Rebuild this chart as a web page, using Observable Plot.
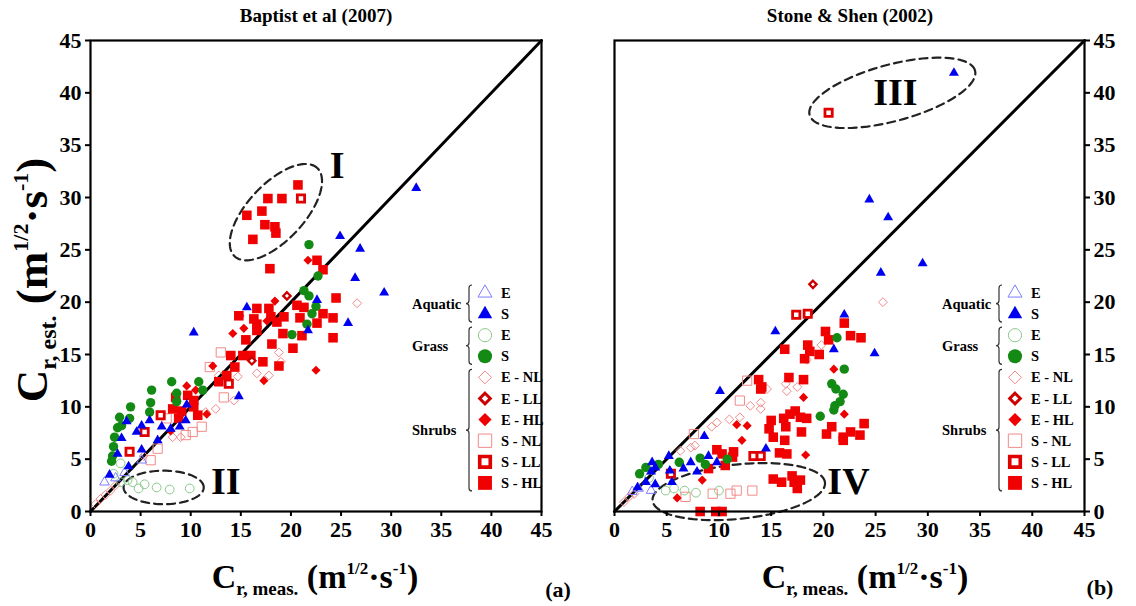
<!DOCTYPE html>
<html><head><meta charset="utf-8">
<script src="https://cdn.jsdelivr.net/npm/d3@7"></script>
<script src="https://cdn.jsdelivr.net/npm/@observablehq/plot@0.6"></script>
<style>
html,body{margin:0;padding:0;background:#fff;}
body{width:1136px;height:606px;overflow:hidden;position:relative;font-family:"Liberation Serif","Times New Roman",serif;font-weight:bold;color:#000;}
.abs{position:absolute;white-space:nowrap;}
.title{font-size:19px;transform:translateX(-50%);}
.axlab{font-size:34px;line-height:1;}
.axlab .sb{font-size:19px;position:relative;top:7px;}
.axlab .sp{font-size:17px;position:relative;top:-14px;}
.ylab{font-size:45px;line-height:1;}
.ylab .sb{font-size:24px;position:relative;top:9px;}
.ylab .sp{font-size:22px;position:relative;top:-19px;}
.tag{font-size:22px;transform:translateX(-50%);}
</style></head><body>
<script>
// ---------- axis ticks ----------
const tickValues = [0,5,10,15,20,25,30,35,40,45];

// ---------- Baptist et al (2007) : [C_meas, C_est] ----------
const baptistAquaticE = [[5.1,4.9],[3.4,3.7],[1.4,2.8],[2.5,3.2]];
const baptistAquaticS = [[24.9,26.3],[26.9,25.1],[26.4,22.3],[25.7,18.0],[22.6,20.2],[15.6,19.5],[10.3,17.1],[21.7,17.3],[29.3,20.9],[32.5,30.9],[14.8,11.0],[9.6,10.2],[5.9,8.7],[3.6,8.6],[5.1,8.2],[4.6,7.6],[7.1,8.1],[8.0,7.9],[8.9,8.1],[9.5,8.7],[6.7,6.8],[3.1,7.0],[5.1,5.9],[2.7,5.5],[3.8,4.3],[1.9,3.5]];
const baptistGrassE = [[4.8,2.2],[5.4,2.6],[6.6,2.3],[7.9,2.1],[9.9,2.2],[4.2,2.8],[3.0,4.6],[2.3,3.6],[3.7,3.0],[3.0,2.8]];
const baptistGrassS = [[21.8,25.5],[22.7,22.5],[21.3,21.1],[21.8,20.6],[22.5,19.6],[22.1,18.9],[21.6,17.9],[20.1,16.9],[8.1,12.4],[10.8,12.4],[11.2,11.6],[6.1,11.6],[8.6,11.3],[8.6,10.5],[6.0,10.4],[4.0,10.0],[5.9,9.5],[2.9,9.0],[3.9,8.9],[2.7,8.0],[2.4,7.1],[2.3,6.2],[2.2,5.3],[2.1,4.8],[3.1,8.2]];
const baptistShrubENL = [[0.5,0.7],[1.0,1.2],[1.5,1.6],[2.0,2.0],[2.5,2.5],[18.8,15.2],[19.0,14.3],[16.6,13.2],[17.8,13.0],[14.7,12.9],[14.3,10.6],[12.5,9.8],[11.5,9.5],[9.0,7.1],[8.2,7.1],[12.8,13.0],[26.6,19.9],[5.3,5.3]];
const baptistShrubELL = [[19.6,20.6],[16.1,14.4]];
const baptistShrubEHL = [[21.7,24.0],[18.4,20.1],[14.9,18.7],[15.3,17.5],[14.2,17.0],[22.5,13.5],[12.2,13.9],[17.6,18.2],[8.0,7.7],[9.6,12.0],[10.5,11.6],[11.6,9.3],[17.3,12.5]];
const baptistShrubSNL = [[13.0,15.2],[11.9,13.8],[11.1,8.1],[10.2,7.6],[9.5,7.3],[6.7,6.0],[6.0,4.9],[13.3,10.9],[7.6,8.9]];
const baptistShrubSLL = [[21.0,29.9],[13.8,12.2],[7.0,9.2],[5.4,7.6],[3.9,5.7]];
const baptistShrubSHL = [[20.7,31.2],[17.7,29.9],[19.1,29.9],[17.1,28.7],[15.6,28.3],[17.4,27.4],[18.4,27.2],[18.5,26.6],[16.2,26.0],[17.9,23.2],[22.6,24.0],[23.2,23.1],[24.5,20.4],[21.3,19.5],[23.2,18.9],[24.2,18.5],[20.9,18.5],[22.6,18.0],[24.2,16.6],[21.1,16.8],[16.6,19.4],[17.8,19.4],[18.0,18.6],[19.3,18.6],[16.6,17.9],[15.5,16.4],[16.6,17.3],[19.2,17.0],[18.1,16.0],[20.2,15.6],[14.0,14.9],[15.2,14.9],[16.0,14.9],[14.4,13.8],[17.2,14.3],[18.8,13.9],[13.6,13.0],[14.8,18.7],[12.8,12.4],[9.7,11.1],[10.3,10.6],[8.2,9.8],[9.1,9.6],[10.3,10.0],[8.8,8.9],[10.7,9.2],[8.5,10.9],[18.6,18.1],[20.6,19.7],[16.3,18.4]];

// ---------- Stone & Shen (2002) ----------
const stoneAquaticE = [[1.7,1.9],[3.5,2.0],[2.3,2.2]];
const stoneAquaticS = [[32.5,41.9],[24.4,29.8],[26.2,28.1],[29.5,23.7],[25.5,22.8],[22.0,18.8],[15.4,17.2],[21.0,15.5],[24.9,15.1],[10.1,11.5],[8.6,7.2],[14.5,6.0],[2.2,2.3],[3.0,2.8],[3.9,2.6],[3.6,4.7],[3.9,4.2],[3.5,3.8],[5.2,5.3],[5.3,3.9],[5.5,2.8],[6.6,4.1],[7.3,4.7],[7.9,3.8],[9.0,5.3],[9.8,4.7]];
const stoneGrassE = [[4.9,2.0],[5.7,2.2],[6.7,2.0],[7.8,1.8],[10.0,2.0],[3.3,3.2]];
const stoneGrassS = [[21.3,16.6],[22.0,13.6],[20.8,12.2],[21.2,11.7],[21.9,11.2],[21.6,10.5],[21.1,10.1],[21.0,9.7],[19.7,9.1],[2.4,3.6],[3.0,4.2],[4.2,4.5],[6.2,4.7],[8.2,5.1],[8.7,4.5],[10.8,5.0]];
const stoneShrubENL = [[19.8,15.9],[18.4,14.5],[14.6,11.7],[16.4,12.2],[17.5,11.9],[16.5,11.5],[13.0,10.1],[14.0,10.4],[14.0,9.8],[11.0,8.8],[9.8,8.5],[9.3,8.1],[7.7,6.3],[12.0,9.0],[7.3,6.1],[6.3,5.8],[0.9,0.9],[1.4,1.4],[1.9,1.7],[25.7,20.0]];
const stoneShrubELL = [[19.0,21.7]];
const stoneShrubEHL = [[21.0,13.6],[18.1,10.9],[22.0,9.3],[18.3,5.4],[12.7,8.2],[11.7,8.3],[12.2,6.8],[6.0,1.3],[8.4,3.0]];
const stoneShrubSNL = [[9.4,1.7],[11.1,1.7],[11.7,2.0],[13.2,2.0],[6.8,1.4],[12.7,12.5],[12.0,10.6],[7.6,7.4]];
const stoneShrubSLL = [[20.5,38.1],[17.4,18.8],[18.5,18.9],[13.3,5.3],[14.0,5.3],[5.4,3.6]];
const stoneShrubSHL = [[22.0,18.0],[20.2,17.2],[20.5,16.4],[22.6,16.8],[23.6,16.6],[16.3,15.5],[18.5,15.9],[18.7,15.3],[19.6,15.0],[18.2,14.6],[13.8,12.6],[14.0,11.7],[16.7,12.8],[18.1,12.6],[15.0,8.7],[14.8,7.9],[15.2,7.1],[16.2,8.9],[16.8,9.3],[17.3,9.6],[17.8,9.0],[18.4,8.9],[16.4,8.1],[16.3,6.8],[15.8,5.6],[16.5,5.5],[17.9,7.6],[20.8,8.1],[20.3,7.4],[21.9,7.1],[22.6,7.6],[23.5,7.3],[23.9,8.4],[21.9,6.8],[15.2,3.1],[16.0,2.8],[17.0,3.4],[17.2,2.8],[17.8,3.0],[17.5,2.2],[8.2,0.0],[9.7,0.0],[10.3,0.0],[9.8,5.9],[10.3,5.5],[11.4,5.7],[9.0,4.1],[10.6,4.4],[11.3,5.2],[14.1,11.9]];

// ---------- annotations (dashed ellipses: centre, semi-axes, tilt in degrees) ----------
const baptistEllipses = [{cx:18.5, cy:28.6, a:5.9, b:2.75, angle:45},{cx:7.3, cy:2.3, a:4.0, b:1.6, angle:0}];
const stoneEllipses = [{cx:26.6, cy:40.0, a:8.2, b:2.7, angle:15},{cx:11.9, cy:1.9, a:8.3, b:2.6, angle:6}];
const baptistRegions = [{label:"I", x:24.6, y:33.0},{label:"II", x:13.5, y:2.8}];
const stoneRegions = [{label:"III", x:26.9, y:40.0},{label:"IV", x:22.4, y:2.8}];

// ---------- legend ----------
const legendGroups = ["Aquatic","Grass","Shrubs"];
const legendKeys = ["aquaticE","aquaticS","grassE","grassS","shrubENL","shrubELL","shrubEHL","shrubSNL","shrubSLL","shrubSHL"];
const legendLabels = ["E","S","E","S","E - NL","E - LL","E - HL","S - NL","S - LL","S - HL"];
const legendGroupOf = ["Aquatic","Aquatic","Grass","Grass","Shrubs","Shrubs","Shrubs","Shrubs","Shrubs","Shrubs"];

// ---------- styles ----------
const styles = {
  aquaticE: {symbol:"triangle", r:3.6, fill:"none", stroke:"#7d7dff", strokeWidth:1},
  aquaticS: {symbol:"triangle", r:3.7, fill:"#0000f0", stroke:"none"},
  grassE:   {symbol:"circle", r:4.4, fill:"none", stroke:"#8cc88c", strokeWidth:1},
  grassS:   {symbol:"circle", r:4.7, fill:"#138a13", stroke:"none"},
  shrubENL: {symbol:"diamond2", r:4.0, fill:"none", stroke:"#f28a8a", strokeWidth:1},
  shrubELL: {symbol:"diamond2", r:3.3, fill:"#fff", stroke:"#cc0000", strokeWidth:2.3},
  shrubEHL: {symbol:"diamond2", r:4.1, fill:"#ee0000", stroke:"none"},
  shrubSNL: {symbol:"square", r:5.2, fill:"none", stroke:"#f28a8a", strokeWidth:1},
  shrubSLL: {symbol:"square", r:4.1, fill:"#fff", stroke:"#e00000", strokeWidth:2.8},
  shrubSHL: {symbol:"square", r:5.4, fill:"#f00000", stroke:"none"}
};
const drawOrder = ["shrubENL","shrubSNL","shrubEHL","shrubSHL","shrubELL","shrubSLL","grassE","aquaticE","grassS","aquaticS"];

const panels = {
  baptist: {aquaticE:baptistAquaticE, aquaticS:baptistAquaticS, grassE:baptistGrassE, grassS:baptistGrassS,
    shrubENL:baptistShrubENL, shrubELL:baptistShrubELL, shrubEHL:baptistShrubEHL, shrubSNL:baptistShrubSNL, shrubSLL:baptistShrubSLL, shrubSHL:baptistShrubSHL},
  stone: {aquaticE:stoneAquaticE, aquaticS:stoneAquaticS, grassE:stoneGrassE, grassS:stoneGrassS,
    shrubENL:stoneShrubENL, shrubELL:stoneShrubELL, shrubEHL:stoneShrubEHL, shrubSNL:stoneShrubSNL, shrubSLL:stoneShrubSLL, shrubSHL:stoneShrubSHL}
};

function ellipsePoints(e) {
  const th = e.angle * Math.PI / 180;
  return d3.range(0, 97).map(i => {
    const t = i / 96 * 2 * Math.PI;
    return [e.cx + e.a*Math.cos(th)*Math.cos(t) - e.b*Math.sin(th)*Math.sin(t),
            e.cy + e.a*Math.sin(th)*Math.cos(t) + e.b*Math.cos(th)*Math.sin(t)];
  });
}

function makePanel(data, ellipses, regions, yAnchor, width, marginLeft, marginRight) {
  const ext = d3.extent(tickValues);
  const diag = [[ext[0], ext[0]], [ext[1], ext[1]]];
  const marks = [
    Plot.line(diag, {x: d => d[0], y: d => d[1], stroke: "black", strokeWidth: 3}),
    ...ellipses.map(e => Plot.line(ellipsePoints(e), {x: d => d[0], y: d => d[1], stroke: "#222", strokeWidth: 2.2, strokeDasharray: "8,5"})),
    ...drawOrder.map(k => Plot.dot(data[k], {x: d => d[0], y: d => d[1], ...styles[k]})),
    Plot.text(regions, {x: "x", y: "y", text: "label", fontSize: 38, fontWeight: "bold", fill: "black", fontFamily: "Liberation Serif"}),
    Plot.frame({stroke: "black", strokeWidth: 2.2}),
    Plot.axisX({ticks: tickValues, tickSize: 5, tickPadding: 5, strokeWidth: 2, label: null}),
    Plot.axisY({ticks: tickValues, anchor: yAnchor, tickSize: 5, tickPadding: 4, strokeWidth: 2, label: null})
  ];
  return Plot.plot({
    width, height: 560, marginLeft, marginRight, marginTop: 40, marginBottom: 49,
    x: {domain: ext, label: null}, y: {domain: ext, label: null},
    style: {fontFamily: "'Liberation Serif', serif", fontSize: "22px", fontWeight: "bold", color: "black", background: "transparent", overflow: "visible"},
    marks
  });
}

function place(el, left, top) {
  const d = document.createElement("div");
  d.className = "abs";
  d.style.left = left + "px"; d.style.top = top + "px";
  d.appendChild(el);
  document.body.appendChild(d);
  return d;
}

place(makePanel(panels.baptist, baptistEllipses, baptistRegions, "left", 570, 90, 29), 0, 0);
place(makePanel(panels.stone, stoneEllipses, stoneRegions, "right", 546, 24, 52), 590, 0);

// legend (built as an inline svg)
function makeLegend() {
  const svg = d3.create("svg").attr("width", 160).attr("height", 230)
    .style("font-family", "'Liberation Serif', serif").style("font-weight", "bold").style("font-size", "14.5px");
  const rowY = i => 23 + 21.1 * i;
  legendKeys.forEach((k, i) => {
    const s = styles[k];
    const area = Math.PI * (s.r * 1.45) ** 2;
    const sym = {triangle: d3.symbolTriangle, circle: d3.symbolCircle, diamond2: d3.symbolDiamond2, square: d3.symbolSquare}[s.symbol];
    svg.append("path").attr("transform", `translate(85,${rowY(i)})`)
      .attr("d", d3.symbol(sym, s.symbol === "circle" ? Math.PI * (s.r * 1.5) ** 2 : area)())
      .attr("fill", s.fill).attr("stroke", s.stroke)
      .attr("stroke-width", (s.strokeWidth || 0) * (k === "shrubSLL" || k === "shrubELL" ? 1.3 : 1));
    svg.append("text").attr("x", 101).attr("y", rowY(i)).attr("dy", "0.35em").text(legendLabels[i]);
  });
  legendGroups.forEach(g => {
    const idx = legendGroupOf.map((v, i) => v === g ? i : -1).filter(i => i >= 0);
    const y1 = rowY(idx[0]) - 8, y2 = rowY(idx[idx.length - 1]) + 8, m = (y1 + y2) / 2, x = 69;
    svg.append("path").attr("fill", "none").attr("stroke", "#333").attr("stroke-width", 1.2)
      .attr("d", `M${x+3},${y1} Q${x},${y1} ${x},${y1+3} L${x},${m-3} Q${x},${m} ${x-3},${m} Q${x},${m} ${x},${m+3} L${x},${y2-3} Q${x},${y2} ${x+3},${y2}`);
    svg.append("text").attr("x", 12).attr("y", m).attr("dy", "0.35em").text(g);
  });
  return svg.node();
}
place(makeLegend(), 400, 270);
place(makeLegend(), 930, 270);

// titles and axis labels
function html(text, cls, left, top, extra) {
  const d = document.createElement("div");
  d.className = "abs " + cls;
  d.style.left = left + "px"; d.style.top = top + "px";
  if (extra) d.style.transform = extra;
  d.innerHTML = text;
  document.body.appendChild(d);
}
html("Baptist et al (2007)", "title", 316, 5);
html("Stone &amp; Shen (2002)", "title", 850, 5);
const xLab = 'C<span class="sb">r, meas.</span> (m<span class="sp">1/2</span>·s<span class="sp">-1</span>)';
const yLab = 'C<span class="sb">r, est.</span> (m<span class="sp">1/2</span>·s<span class="sp">-1</span>)';
html(xLab, "axlab", 315, 560, "translateX(-50%)");
html(xLab, "axlab", 865, 560, "translateX(-50%)");
html(yLab, "ylab", 32, 280, "translate(-50%,-50%) rotate(-90deg)");
html("(a)", "tag", 558, 577);
html("(b)", "tag", 1100, 575);
</script>
</body></html>
